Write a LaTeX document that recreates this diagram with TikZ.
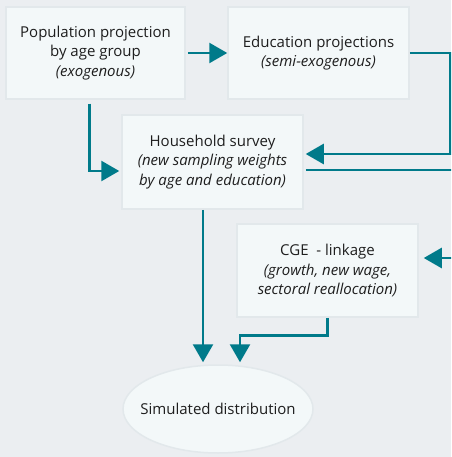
\documentclass[tikz,border=0pt]{standalone}
\usepackage{fontspec}
\setmainfont{Open Sans}
\usetikzlibrary{arrows.meta,calc,shapes.geometric}
\definecolor{bgcol}{RGB}{235,238,241}
\definecolor{boxfill}{RGB}{243,248,249}
\definecolor{boxline}{RGB}{226,232,235}
\definecolor{teal}{RGB}{0,122,138}
\definecolor{ink}{RGB}{30,30,30}
\tikzset{
  stagebox/.style={draw=boxline, line width=1.5pt, fill=boxfill, align=center,
    text=ink, font=\fontsize{15}{19.5}\selectfont, inner sep=0pt},
  flow/.style={draw=teal, line width=2.6pt, -{Triangle[length=18pt,width=20pt]}}
}
\begin{document}
\begin{tikzpicture}[x=1pt,y=-1pt]
\fill[bgcol] (0,0) rectangle (451,457);
\useasboundingbox (0,0) rectangle (451,457);
\clip (0,0) rectangle (451,457);

\node[stagebox, minimum width=179pt, minimum height=92pt] (pop) at (95.5,53)
  {Population projection\\by age group\\\textit{(exogenous)}};
\node[stagebox, minimum width=181pt, minimum height=92pt] (edu) at (318.5,53)
  {Education projections\\\textit{(semi-exogenous)}};
\node[stagebox, minimum width=181pt, minimum height=94pt] (hh) at (212.5,162)
  {Household survey\\\textit{(new sampling weights}\\\textit{by age and education)}};
\node[stagebox, minimum width=181pt, minimum height=93pt] (cge) at (327.5,270.5)
  {CGE\ \ - linkage\\\textit{(growth, new wage,}\\\textit{sectoral reallocation)}};
\node[stagebox, ellipse, minimum width=190pt, minimum height=88pt] (sim) at (218,409)
  {\makebox[0pt]{Simulated distribution}};

% population -> education
\draw[flow] ($(pop.east)+(2,0)$) -- (edu.west);
% population -> household survey
\draw[flow] ($(pop.south west)+(84,4)$) |- ($(hh.west)+(-2,9)$);
% education -> household survey
\draw[flow] (edu.east) -- ++(41,0) |- ($(hh.east)+(2,-8)$);
% household survey -> CGE (loop runs past the right edge)
\draw[flow] ($(hh.east)+(2,8)$) -- (470,170) |- ($(cge.east)+(5,-12.5)$);
% household survey -> simulated distribution
\draw[flow] ($(hh.south)+(-9.5,0)$) -- ($(sim.north)+(-15,-2)$);
% CGE -> simulated distribution
\draw[flow] (cge.south) -- ++(0,18) -| ($(sim.north)+(22,-2)$);
\end{tikzpicture}
\end{document}
